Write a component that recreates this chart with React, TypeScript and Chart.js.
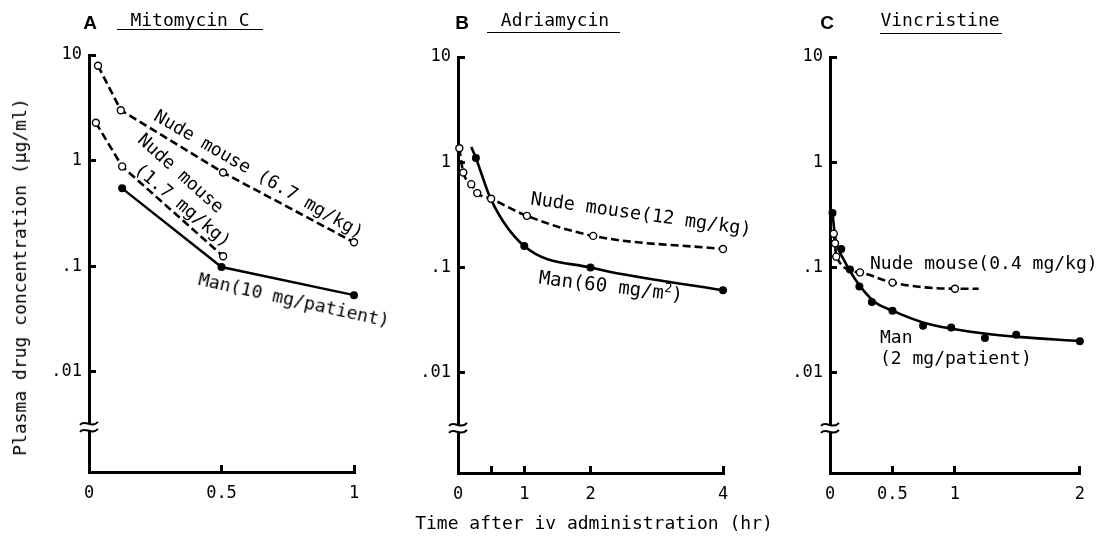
import React, { useEffect, useRef } from 'react';
import { Chart, registerables } from 'chart.js';

Chart.register(...registerables);

const MONO = '"DejaVu Sans Mono", monospace';
const H = 543;

// ---------- Panel A: Mitomycin C ----------
const aNude67Time = [0.034, 0.12, 0.506, 1.0];
const aNude67Conc = [7.9, 3.0, 0.77, 0.168];
const aNude17Time = [0.026, 0.125, 0.506];
const aNude17Conc = [2.28, 0.88, 0.124];
const aManTime = [0.125, 0.5, 1.0];
const aManConc = [0.545, 0.098, 0.053];
const aXTicks = [0, 0.5, 1];
const aXLabels = ['0', '0.5', '1'];

// ---------- Panel B: Adriamycin ----------
const bNudeTime = [0.02, 0.08, 0.2, 0.29, 0.5, 1.04, 2.04, 4.0];
const bNudeConc = [1.36, 0.8, 0.62, 0.51, 0.45, 0.31, 0.2, 0.15];
const bManTime = [0.27, 1.0, 2.0, 4.0];
const bManConc = [1.1, 0.16, 0.1, 0.061];
const bManFitTime = [0.2, 0.27, 0.5, 1.0, 2.0, 4.0];
const bManFitConc = [1.4, 1.1, 0.44, 0.16, 0.1, 0.061];
const bXTicks = [0, 0.5, 1, 2, 4];
const bXLabels = ['0', '', '1', '2', '4'];

// ---------- Panel C: Vincristine ----------
const cNudeTime = [0.03, 0.04, 0.05, 0.24, 0.5, 1.0, 1.19];
const cNudeConc = [0.21, 0.17, 0.127, 0.09, 0.072, 0.063, 0.063];
const cManTime = [0.02, 0.09, 0.16, 0.235, 0.335, 0.5, 0.745, 0.97, 1.24, 1.49, 2.0];
const cManConc = [0.33, 0.15, 0.096, 0.066, 0.047, 0.039, 0.028, 0.027, 0.0215, 0.023, 0.02];
const cManFitTime = [0.02, 0.04, 0.06, 0.1, 0.2, 0.35, 0.5, 0.75, 1.0, 1.25, 1.5, 2.0];
const cManFitConc = [0.33, 0.2, 0.16, 0.125, 0.078, 0.048, 0.039, 0.03, 0.026, 0.0235, 0.022, 0.02];
const cXTicks = [0, 0.5, 1, 2];
const cXLabels = ['0', '0.5', '1', '2'];

// ---------- shared y axis ----------
const yTicks = [0.01, 0.1, 1, 10];
const yLabels = ['.01', '.1', '1', '10'];
const Y_MIN = 0.00112;
const Y_MAX = 10;
const Y_BREAK = 0.003;

const pts = (xs: number[], ys: number[]) => xs.map((x, i) => ({ x, y: ys[i] }));

const openDashed = (xs: number[], ys: number[], extra: any = {}) => ({
  data: pts(xs, ys),
  showLine: true,
  borderColor: '#000',
  borderWidth: 2.6,
  borderDash: [8, 4],
  pointRadius: 3.5,
  pointBorderWidth: 1.4,
  pointBackgroundColor: '#fff',
  pointBorderColor: '#000',
  clip: 14,
  ...extra,
});

const filledSolid = (xs: number[], ys: number[], extra: any = {}) => ({
  data: pts(xs, ys),
  showLine: true,
  borderColor: '#000',
  borderWidth: 2.4,
  pointRadius: 4,
  pointBorderWidth: 0,
  pointBackgroundColor: '#000',
  pointBorderColor: '#000',
  clip: 14,
  ...extra,
});

const fitLine = (xs: number[], ys: number[]) => ({
  data: pts(xs, ys),
  showLine: true,
  borderColor: '#000',
  borderWidth: 2.6,
  pointRadius: 0,
  cubicInterpolationMode: 'monotone',
  clip: 14,
});

const markersOnly = (xs: number[], ys: number[]) => ({
  data: pts(xs, ys),
  showLine: false,
  pointRadius: 4,
  pointBorderWidth: 0,
  pointBackgroundColor: '#000',
  pointBorderColor: '#000',
  clip: 14,
});

const breakPlugin = {
  id: 'axisBreak',
  afterDraw(chart: any) {
    const ctx = chart.ctx;
    const y = chart.scales.y.getPixelForValue(Y_BREAK);
    const x = chart.chartArea.left;
    ctx.save();
    ctx.fillStyle = '#fff';
    ctx.fillRect(x - 3, y - 3, 6, 7);
    ctx.strokeStyle = '#000';
    ctx.lineWidth = 2;
    for (const dy of [-3, 4]) {
      ctx.beginPath();
      ctx.moveTo(x - 9, y + dy + 1);
      ctx.bezierCurveTo(x - 4, y + dy - 5, x + 2, y + dy + 5, x + 9, y + dy - 2);
      ctx.stroke();
    }
    ctx.restore();
  },
};

type Panel = {
  left: number;
  width: number;
  axisX: number;
  rightX: number;
  topY: number;
  bottomY: number;
  xMax: number;
  xTicks: number[];
  xLabels: string[];
  datasets: any[];
};

const panels: Panel[] = [
  {
    left: 0, width: 380, axisX: 89, rightX: 354, topY: 55, bottomY: 472,
    xMax: 1, xTicks: aXTicks, xLabels: aXLabels,
    datasets: [
      filledSolid(aManTime, aManConc),
      openDashed(aNude17Time, aNude17Conc),
      openDashed(aNude67Time, aNude67Conc),
    ],
  },
  {
    left: 380, width: 370, axisX: 458, rightX: 723, topY: 57, bottomY: 473,
    xMax: 4, xTicks: bXTicks, xLabels: bXLabels,
    datasets: [
      markersOnly(bManTime, bManConc),
      openDashed(bNudeTime, bNudeConc, { cubicInterpolationMode: 'monotone' }),
      fitLine(bManFitTime, bManFitConc),
    ],
  },
  {
    left: 750, width: 353, axisX: 830, rightX: 1092, topY: 57, bottomY: 473,
    xMax: 2, xTicks: cXTicks, xLabels: cXLabels,
    datasets: [
      markersOnly(cManTime, cManConc),
      openDashed(cNudeTime, cNudeConc, {
        cubicInterpolationMode: 'monotone',
        pointRadius: (c: any) => (c.dataIndex === cNudeTime.length - 1 ? 0 : 3.5),
      }),
      fitLine(cManFitTime, cManFitConc),
    ],
  },
];

function makeChart(canvas: HTMLCanvasElement, p: Panel) {
  return new Chart(canvas, {
    type: 'scatter',
    data: { datasets: p.datasets },
    options: {
      animation: false,
      responsive: false,
      maintainAspectRatio: false,
      events: [],
      layout: {
        padding: { left: 0, top: p.topY, right: p.left + p.width - p.rightX, bottom: 0 },
      },
      plugins: { legend: { display: false }, tooltip: { enabled: false } },
      scales: {
        x: {
          type: 'linear',
          position: 'bottom',
          min: 0,
          max: p.xMax,
          bounds: 'data',
          afterBuildTicks: (s: any) => {
            s.ticks = p.xTicks.map((v) => ({ value: v }));
          },
          afterFit: (s: any) => {
            s.height = H - p.bottomY;
          },
          ticks: {
            autoSkip: false,
            maxRotation: 0,
            padding: 18,
            color: '#000',
            font: { family: MONO, size: 17 },
            callback: (v: any) => {
              const i = p.xTicks.indexOf(Number(v));
              return i >= 0 ? p.xLabels[i] : '';
            },
          },
          grid: { drawOnChartArea: false, drawTicks: true, tickLength: -7, lineWidth: 3, color: '#000' },
          border: { display: true, width: 3, color: '#000' },
        },
        y: {
          type: 'logarithmic',
          position: 'left',
          min: Y_MIN,
          max: Y_MAX,
          bounds: 'data',
          afterBuildTicks: (s: any) => {
            s.ticks = yTicks.map((v) => ({ value: v }));
          },
          afterFit: (s: any) => {
            s.width = p.axisX - p.left;
          },
          ticks: {
            autoSkip: false,
            padding: 14,
            color: '#000',
            font: { family: MONO, size: 17 },
            callback: (v: any) => {
              const i = yTicks.findIndex((t) => Math.abs(t - Number(v)) / t < 1e-6);
              return i >= 0 ? yLabels[i] : '';
            },
          },
          grid: { drawOnChartArea: false, drawTicks: true, tickLength: -7, lineWidth: 3, color: '#000' },
          border: { display: true, width: 3, color: '#000' },
        },
      },
    } as any,
    plugins: [breakPlugin],
  });
}

function PanelCanvas({ p }: { p: Panel }) {
  const ref = useRef<HTMLCanvasElement | null>(null);
  useEffect(() => {
    if (!ref.current) return;
    const ch = makeChart(ref.current, p);
    return () => ch.destroy();
  }, [p]);
  return (
    <canvas
      ref={ref}
      width={p.width}
      height={H}
      style={{ position: 'absolute', left: p.left, top: 0, width: p.width, height: H, display: 'block' }}
    />
  );
}

const txt = (s: React.CSSProperties): React.CSSProperties => ({
  position: 'absolute',
  whiteSpace: 'nowrap',
  fontFamily: MONO,
  fontSize: 18,
  lineHeight: 1,
  color: '#000',
  ...s,
});

function Rot({ x, y, r, children, size = 18 }: { x: number; y: number; r: number; children: any; size?: number }) {
  return (
    <div style={txt({ left: x, top: y, fontSize: size, transform: `translate(-50%, -50%) rotate(${r}deg)` })}>
      {children}
    </div>
  );
}

function Title({ letter, lx, name, nx, ulLeft, ulRight, ulY }: any) {
  return (
    <>
      <div style={txt({ left: lx, top: 22, fontFamily: '"Liberation Sans", "DejaVu Sans", sans-serif', fontWeight: 'bold', fontSize: 19, transform: 'translate(-50%, -50%)' })}>
        {letter}
      </div>
      <div style={txt({ left: nx, top: 20, transform: 'translate(-50%, -50%)' })}>{name}</div>
      <div style={{ position: 'absolute', left: ulLeft, top: ulY, width: ulRight - ulLeft, height: 0, borderTop: '1.5px solid #000' }} />
    </>
  );
}

export default function App() {
  return (
    <div style={{ position: 'absolute', left: 0, top: 0, width: 1103, height: H, background: '#fff', overflow: 'hidden' }}>
      {panels.map((p, i) => (
        <PanelCanvas key={i} p={p} />
      ))}

      <Title letter="A" lx={90} name="Mitomycin C" nx={190} ulLeft={117} ulRight={263} ulY={29} />
      <Title letter="B" lx={462} name="Adriamycin" nx={555} ulLeft={487} ulRight={620} ulY={32} />
      <Title letter="C" lx={827} name="Vincristine" nx={940} ulLeft={880} ulRight={1002} ulY={33} />

      {/* Panel A annotations */}
      <Rot x={259} y={174} r={30}>Nude mouse (6.7 mg/kg)</Rot>
      <Rot x={181} y={173} r={42}>Nude mouse</Rot>
      <Rot x={183} y={205} r={40}>(1.7 mg/kg)</Rot>
      <Rot x={294} y={300} r={12.5}>Man(10 mg/patient)</Rot>

      {/* Panel B annotations */}
      <Rot x={641} y={214} r={8} size={18.5}>Nude mouse(12 mg/kg)</Rot>
      <Rot x={611} y={286} r={7} size={19}>
        Man(60 mg/m<sup style={{ fontSize: 13, verticalAlign: 'super', lineHeight: 0 }}>2</sup>)
      </Rot>

      {/* Panel C annotations */}
      <div style={txt({ left: 870, top: 263, transform: 'translateY(-50%)' })}>Nude mouse(0.4 mg/kg)</div>
      <div style={txt({ left: 880, top: 337, transform: 'translateY(-50%)' })}>Man</div>
      <div style={txt({ left: 880, top: 358, transform: 'translateY(-50%)' })}>(2 mg/patient)</div>

      {/* Axis titles */}
      <div style={txt({ left: 594, top: 523, transform: 'translate(-50%, -50%)' })}>Time after iv administration (hr)</div>
      <div style={txt({ left: 20, top: 277, transform: 'translate(-50%, -50%) rotate(-90deg)' })}>
        Plasma drug concentration (μg/ml)
      </div>
    </div>
  );
}
